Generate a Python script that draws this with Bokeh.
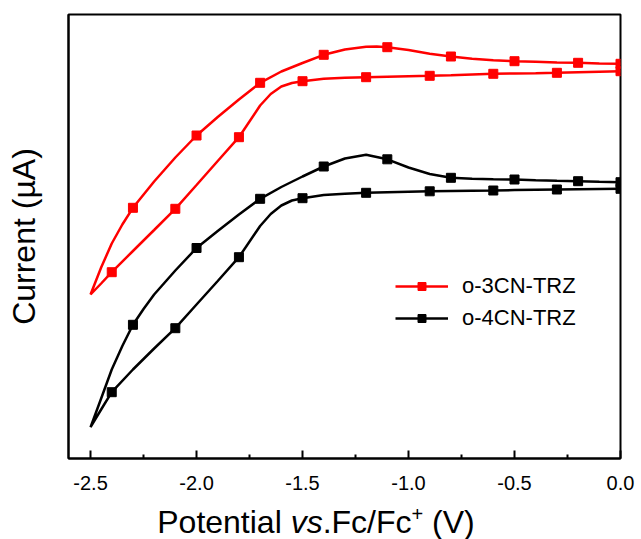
import numpy as np
from bokeh.plotting import figure
from bokeh.layouts import column
from bokeh.models import (Range1d, FixedTicker, PrintfTickFormatter, Div,
                          Legend, LegendItem)
from bokeh.embed import file_html
from bokeh.resources import INLINE

# ---------------- data (potential in V vs Fc/Fc+, current in a.u. µA) ----------------
# o-3CN-TRZ : upper branch (0.0 -> -2.5 V)
POT_3CN_UP = [0.0, -0.1, -0.2, -0.3, -0.4, -0.5, -0.6, -0.7, -0.8, -0.9, -1.0, -1.1, -1.15,
              -1.2, -1.3, -1.4, -1.5, -1.6, -1.7, -1.8, -1.9, -2.0, -2.1, -2.2, -2.3, -2.35,
              -2.4, -2.45, -2.5]
CUR_3CN_UP = [39.47, 39.50, 39.57, 39.60, 39.67, 39.73, 39.82, 39.97, 40.20, 40.47, 40.86,
              41.13, 41.21, 41.17, 40.90, 40.37, 39.55, 38.70, 37.57, 35.90, 34.15, 32.30,
              30.10, 27.70, 25.07, 23.40, 21.50, 19.10, 16.40]
# o-3CN-TRZ : lower branch (-2.5 -> 0.0 V)
POT_3CN_LO = [-2.5, -2.45, -2.4, -2.3, -2.2, -2.1, -2.0, -1.9, -1.8, -1.7, -1.65, -1.6, -1.55,
              -1.5, -1.4, -1.3, -1.2, -1.1, -1.0, -0.9, -0.8, -0.7, -0.6, -0.5, -0.4, -0.3,
              -0.2, -0.1, 0.0]
CUR_3CN_LO = [16.40, 17.50, 18.63, 20.75, 22.85, 24.97, 27.35, 29.75, 32.13, 35.30, 36.45,
              37.20, 37.55, 37.73, 37.97, 38.07, 38.13, 38.18, 38.23, 38.27, 38.33, 38.40,
              38.47, 38.50, 38.53, 38.57, 38.63, 38.68, 38.73]

# o-4CN-TRZ : upper branch (0.0 -> -2.5 V)
POT_4CN_UP = [0.0, -0.1, -0.2, -0.3, -0.4, -0.5, -0.6, -0.7, -0.8, -0.9, -1.0, -1.1, -1.2,
              -1.3, -1.4, -1.5, -1.6, -1.7, -1.8, -1.9, -2.0, -2.1, -2.2, -2.25, -2.3, -2.35,
              -2.4, -2.45, -2.5]
CUR_4CN_UP = [27.63, 27.67, 27.73, 27.77, 27.83, 27.90, 27.92, 27.97, 28.07, 28.45, 29.10,
              29.92, 30.38, 30.00, 29.20, 28.20, 27.15, 25.97, 24.40, 22.75, 21.05, 18.80,
              16.40, 14.95, 13.37, 11.25, 8.90, 6.00, 3.13]
# o-4CN-TRZ : lower branch (-2.5 -> 0.0 V)
POT_4CN_LO = [-2.5, -2.45, -2.4, -2.3, -2.2, -2.1, -2.0, -1.9, -1.8, -1.7, -1.65, -1.6, -1.55,
              -1.5, -1.4, -1.3, -1.2, -1.1, -1.0, -0.9, -0.8, -0.7, -0.6, -0.5, -0.4, -0.3,
              -0.2, -0.1, 0.0]
CUR_4CN_LO = [3.13, 4.90, 6.63, 8.90, 11.00, 13.03, 15.40, 17.75, 20.13, 23.25, 24.45, 25.30,
              25.80, 26.03, 26.35, 26.48, 26.57, 26.62, 26.67, 26.72, 26.75, 26.78, 26.80,
              26.84, 26.87, 26.90, 26.93, 26.95, 26.97]

# potentials at which symbols are drawn on each branch
MARK_UP = [0.0, -0.2, -0.5, -0.8, -1.1, -1.4, -1.7, -2.0, -2.3]
MARK_LO = [-2.4, -2.1, -1.8, -1.5, -1.2, -0.9, -0.6, -0.3, 0.0]

SERIES = ["o-3CN-TRZ", "o-4CN-TRZ"]
COLORS = ["#FF0000", "#000000"]

X_TICKS = [-2.5, -2.0, -1.5, -1.0, -0.5, 0.0]
X_MINOR = [-2.25, -1.75, -1.25, -0.75, -0.25]

FONT = "Liberation Sans"


def pick(pots, curs, marks):
    xs, ys = [], []
    for pv, cv in zip(pots, curs):
        if any(abs(pv - m) < 1e-9 for m in marks):
            xs.append(pv)
            ys.append(cv)
    return xs, ys


p = figure(width=636, height=498, output_backend="svg", toolbar_location=None,
           x_range=Range1d(-2.604, 0.0), y_range=Range1d(0, 44.4),
           min_border_left=68, min_border_right=16, min_border_top=14, min_border_bottom=40)
p.grid.visible = False
p.background_fill_color = "white"
p.border_fill_color = "white"
p.outline_line_color = "black"
p.outline_line_width = 2

# x axis
xa = p.xaxis[0]
xa.ticker = FixedTicker(ticks=X_TICKS, minor_ticks=X_MINOR)
xa.formatter = PrintfTickFormatter(format="%.1f")
xa.axis_line_width = 2
xa.major_tick_line_width = 2
xa.minor_tick_line_width = 2
xa.major_tick_in = 8
xa.major_tick_out = 0
xa.minor_tick_in = 4
xa.minor_tick_out = 0
xa.major_label_standoff = 17
xa.major_label_text_font = FONT
xa.major_label_text_font_size = "20px"
xa.major_label_text_color = "black"

# y axis (no ticks), title only
ya = p.yaxis[0]
ya.ticker = FixedTicker(ticks=[])
ya.axis_line_width = 2
ya.major_tick_line_color = None
ya.minor_tick_line_color = None
ya.axis_label = "Current (µA)"
ya.axis_label_text_font = FONT
ya.axis_label_text_font_size = "32px"
ya.axis_label_text_font_style = "normal"
ya.axis_label_text_color = "black"
ya.axis_label_standoff = 27

branches = [
    (POT_3CN_UP, CUR_3CN_UP, POT_3CN_LO, CUR_3CN_LO),
    (POT_4CN_UP, CUR_4CN_UP, POT_4CN_LO, CUR_4CN_LO),
]
items = []
for name, col, (pu, cu, pl, cl) in zip(SERIES, COLORS, branches):
    xs = list(pu) + list(pl[1:])
    ys = list(cu) + list(cl[1:])
    rl = p.line(xs, ys, line_color=col, line_width=2.5)
    mxu, myu = pick(pu, cu, MARK_UP)
    mxl, myl = pick(pl, cl, MARK_LO)
    rm = p.scatter(mxu + mxl, myu + myl, marker="square", size=9,
                   fill_color=col, line_color=col)
    items.append(LegendItem(label=name, renderers=[rl, rm]))

legend = Legend(items=items, location=(327, 127), orientation="vertical",
                border_line_color=None, background_fill_alpha=0,
                padding=0, margin=0, spacing=6,
                glyph_width=53, glyph_height=20, label_height=20, label_standoff=14,
                label_text_font=FONT, label_text_font_size="22px",
                label_text_color="black")
p.add_layout(legend)

# x-axis title (italic "vs", superscript "+") as HTML below the plot
xtitle = Div(
    text='Potential <i>vs</i>.Fc/Fc<sup style="font-size:20px;line-height:0">+</sup> (V)',
    width=622, height=41,
    styles={"font-family": "'Liberation Sans'", "font-size": "32px", "color": "black",
            "text-align": "center", "white-space": "nowrap", "padding-top": "1px",
            "line-height": "normal"})

layout = column(p, xtitle, spacing=0)
open("out.html", "w").write(file_html(layout, INLINE))
